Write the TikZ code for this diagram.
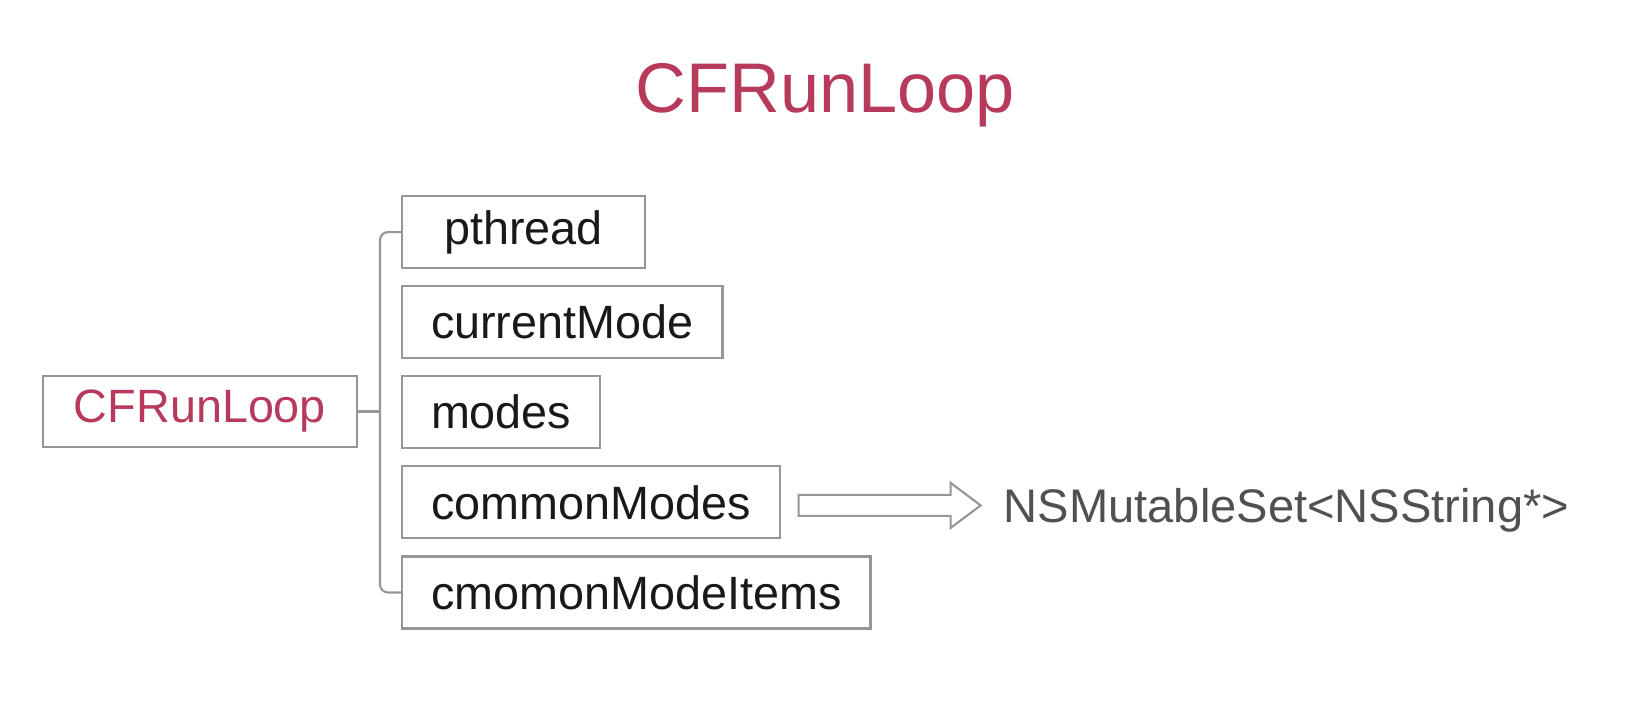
\documentclass[tikz,border=0pt]{standalone}
\definecolor{loopred}{RGB}{183, 58, 92}
\definecolor{framegray}{RGB}{150, 150, 150}
\definecolor{settext}{RGB}{80, 80, 80}
\usepackage{fontspec}
\setmainfont{Liberation Sans}
\usepackage{tikz}
\usetikzlibrary{positioning, calc}

\begin{document}
\begin{tikzpicture}[
    field/.style={draw=framegray, line width=0.6pt, minimum height=0.72cm, inner xsep=0.29cm, inner ysep=0pt, font=\fontsize{13.3}{16}\selectfont, text=black!90},
    bracket/.style={draw=framegray, line width=0.6pt, rounded corners=0.08cm},
    fatarrow/.style={draw=framegray, line width=0.6pt, line join=miter}
  ]
  \useasboundingbox (0,0) rectangle (16.42,7.06);

  \node[anchor=base, text=loopred, font=\fontsize{20}{24}\selectfont] (title) at (8.255,5.94) {CFRunLoop};

  \node[field, minimum width=3.14cm, minimum height=0.71cm, text=loopred] (runloop) at (2.00,2.945) {CFRunLoop};

  \node[field, anchor=north west, minimum width=2.43cm] (pthread) at (4.01,5.11) {pthread};
  \node[field, below=0.16 of pthread.south west, anchor=north west] (curmode) {currentMode};
  \node[field, below=0.16 of curmode.south west, anchor=north west] (modes) {modes};
  \node[field, below=0.16 of modes.south west, anchor=north west] (cmodes) {commonModes};
  \node[field, below=0.16 of cmodes.south west, anchor=north west] (cmitems) {cmomonModeItems};

  \coordinate (fork) at (3.80,2.945);
  \draw[bracket] (pthread.west) -| (fork) |- (cmitems.west);
  \draw[bracket] (runloop.east) -- (fork);

  \node[anchor=base west, inner sep=0pt, text=settext, font=\fontsize{13.4}{16}\selectfont] (nsset) at (10.03,1.84) {NSMutableSet<NSString*>};

  \draw[fatarrow] ($(cmodes.east)+(0.18,0.075)$) -- ++(1.52,0) -- ++(0,0.12) -- ++(0.30,-0.225)
    -- ++(-0.30,-0.225) -- ++(0,0.12) -- ++(-1.52,0) -- cycle;
\end{tikzpicture}
\end{document}
